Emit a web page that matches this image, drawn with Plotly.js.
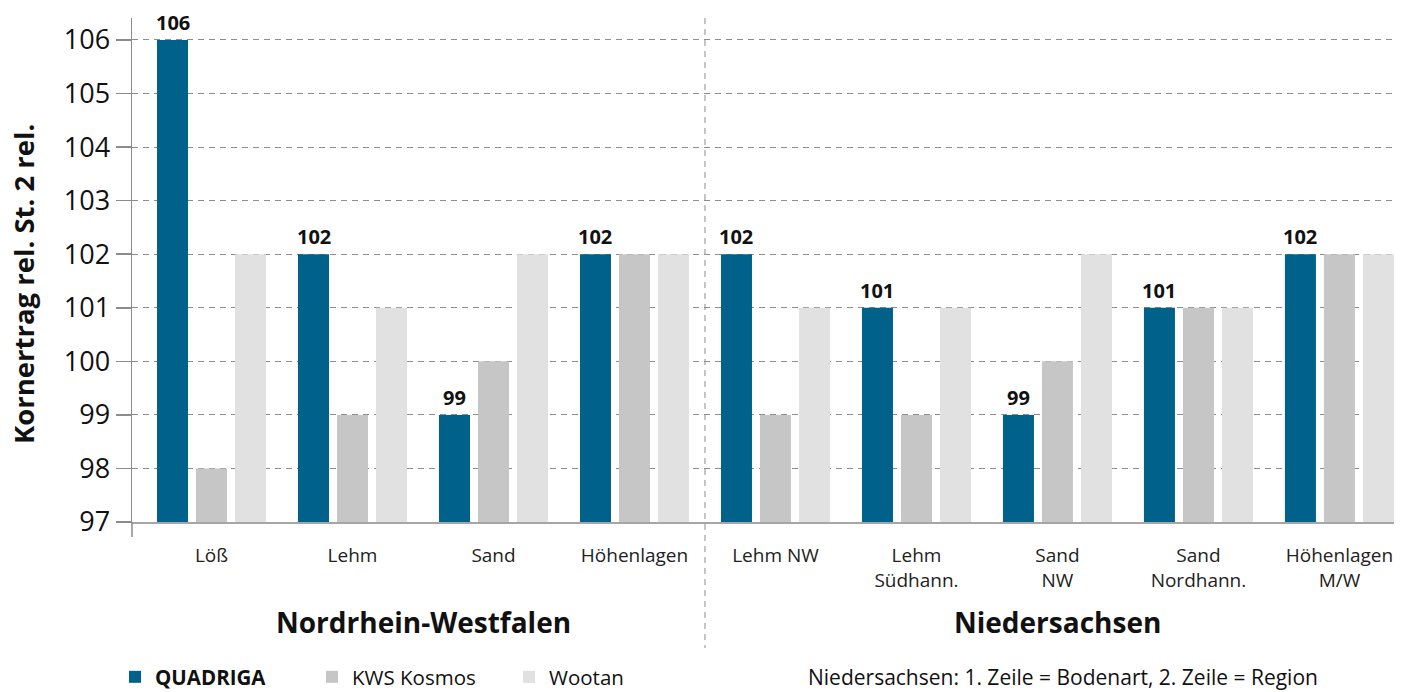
<!DOCTYPE html>
<html>
<head>
<meta charset="utf-8">
<script src="https://cdn.plot.ly/plotly-3.0.1.min.js"></script>
<style>html,body{margin:0;padding:0;background:#fff;}#chart{width:1408px;height:692px;}</style>
</head>
<body>
<div id="chart"></div>
<script>
const categories = ["Löß", "Lehm", "Sand", "Höhenlagen", "Lehm NW", "Lehm<br>Südhann.", "Sand<br>NW", "Sand<br>Nordhann.", "Höhenlagen<br>M/W"];
const quadriga = [106, 102, 99, 102, 102, 101, 99, 101, 102];
const kwsKosmos = [98, 99, 100, 102, 99, 99, 100, 101, 102];
const wootan = [102, 101, 102, 102, 101, 101, 102, 101, 102];
const seriesNames = ["QUADRIGA", "KWS Kosmos", "Wootan"];
const groupTitles = ["Nordrhein-Westfalen", "Niedersachsen"];
const yTicks = [97, 98, 99, 100, 101, 102, 103, 104, 105, 106];
const yTitle = "Kornertrag rel. St. 2 rel.";
const footnote = "Niedersachsen: 1. Zeile = Bodenart, 2. Zeile = Region";

const FONT = "Open Sans, Noto Sans, sans-serif";
const colors = ["#00628b", "#c6c6c6", "#e1e1e1"];

const traces = [
  {type: "bar", name: "<b>" + seriesNames[0] + "</b>", x: categories, y: quadriga, marker: {color: colors[0]}},
  {type: "bar", name: seriesNames[1], x: categories, y: kwsKosmos, marker: {color: colors[1]}},
  {type: "bar", name: seriesNames[2], x: categories, y: wootan, marker: {color: colors[2]}}
];

const L = 132, R = 14, T = 18, B = 170;
const W = 1408, H = 692;
const plotW = W - L - R, plotH = H - T - B;
const px = (xPix) => (xPix - L) / plotW;
const py = (yPix) => (H - B - yPix) / plotH;

const annotations = [];
// value labels for QUADRIGA (first bar of each group)
quadriga.forEach((v, i) => {
  annotations.push({
    x: i, y: v, xref: "x", yref: "y", text: "<b>" + v + "</b>", showarrow: false,
    xshift: -39, xanchor: "center", yanchor: "bottom", yshift: 2,
    font: {family: FONT, size: 20, color: "#111"}
  });
});
annotations.push({x: 1.5, y: py(622), xref: "x", yref: "paper", xanchor: "center", yanchor: "middle", text: "<b>" + groupTitles[0] + "</b>", showarrow: false, font: {family: FONT, size: 28, color: "#111"}});
annotations.push({x: 6, y: py(622), xref: "x", yref: "paper", xanchor: "center", yanchor: "middle", text: "<b>" + groupTitles[1] + "</b>", showarrow: false, font: {family: FONT, size: 28, color: "#111"}});
annotations.push({x: px(23), y: py(284), xref: "paper", yref: "paper", xanchor: "center", yanchor: "middle", text: "<b>" + yTitle + "</b>", showarrow: false, textangle: -90, font: {family: FONT, size: 27.5, color: "#111"}});
annotations.push({x: px(1063), y: py(677), xref: "paper", yref: "paper", xanchor: "center", yanchor: "middle", text: footnote, showarrow: false, font: {family: FONT, size: 21, color: "#111"}});

const layout = {
  width: W, height: H,
  margin: {l: L, r: R, t: T, b: B},
  paper_bgcolor: "#fff", plot_bgcolor: "#fff",
  font: {family: FONT, color: "#222"},
  barmode: "group", bargap: 0.170, bargroupgap: 0.205,
  showlegend: true,
  legend: {orientation: "h", xref: "container", yref: "container", x: 115 / W, y: 15 / H, xanchor: "left", yanchor: "middle",
           font: {family: FONT, size: 20.5, color: "#111"}, entrywidth: 152, itemwidth: 30, traceorder: "normal"},
  xaxis: {type: "category", range: [-0.564, 8.387], showgrid: false, showline: true, linecolor: "#a6a6a6", linewidth: 2,
          ticks: "", ticklabelstandoff: 15, tickfont: {family: FONT, size: 19, color: "#222"}, zeroline: false, fixedrange: true},
  yaxis: {range: [97, 106.41], tickvals: yTicks, ticktext: yTicks.map(String), showgrid: true, gridcolor: "#8c8c8c", griddash: "6px,5px", gridwidth: 1,
          showline: true, linecolor: "#8c8c8c", linewidth: 1.5, ticks: "outside", ticklen: 15, tickcolor: "#8c8c8c", tickwidth: 1.5,
          tickfont: {family: FONT, size: 27, color: "#111"}, zeroline: false, fixedrange: true},
  shapes: [
    {type: "line", xref: "x", yref: "paper", x0: 3.5, x1: 3.5, y0: 1.0, y1: py(648), line: {color: "#8c8c8c", width: 1, dash: "6px,5px"}},
    {type: "line", xref: "paper", yref: "paper", x0: 0, x1: 0, y0: 0, y1: py(537), line: {color: "#8c8c8c", width: 1.5}}
  ],
  annotations: annotations
};

Plotly.newPlot("chart", traces, layout, {displayModeBar: false, staticPlot: true});
</script>
</body>
</html>
